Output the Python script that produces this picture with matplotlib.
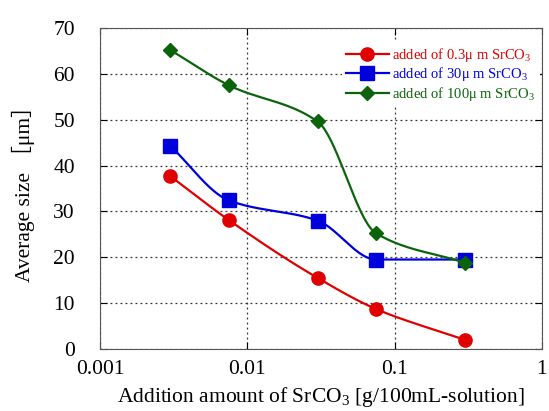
import matplotlib
matplotlib.use('Agg')
import matplotlib.pyplot as plt
import numpy as np

plt.rcParams['font.family'] = ['Liberation Serif', 'DejaVu Sans']
plt.rcParams['mathtext.fontset'] = 'custom'
plt.rcParams['mathtext.rm'] = 'Liberation Serif'

# addition amount of SrCO3 [g/100mL-solution]
amount = [0.003, 0.0075, 0.03, 0.075, 0.3]
size_03 = [37.7, 28.1, 15.5, 8.7, 2.0]
size_30 = [44.3, 32.4, 28.0, 19.5, 19.5]
size_100 = [65.2, 57.5, 49.6, 25.2, 18.8]

labels = ['added of 0.3\u03bc m SrCO$_3$',
          'added of 30\u03bc m SrCO$_3$',
          'added of 100\u03bc m SrCO$_3$']
colors = ['#e00000', '#0000dd', '#0b640b']
markers = ['o', 's', 'D']
msizes = [9.5, 10, 7]


def smooth(x, y, n=40):
    # monotone cubic (Fritsch-Carlson) through the points, in log-x space
    lx = np.log10(x)
    y = np.asarray(y, float)
    h = np.diff(lx)
    d = np.diff(y) / h
    m = np.zeros(len(y))
    m[0], m[-1] = d[0], d[-1]
    for i in range(1, len(y) - 1):
        if d[i - 1] * d[i] <= 0:
            m[i] = 0
        else:
            w1 = 2 * h[i] + h[i - 1]
            w2 = h[i] + 2 * h[i - 1]
            m[i] = (w1 + w2) / (w1 / d[i - 1] + w2 / d[i])
    xs, ys = [], []
    t = np.linspace(0, 1, n)
    for i in range(len(y) - 1):
        h00 = 2 * t**3 - 3 * t**2 + 1
        h10 = t**3 - 2 * t**2 + t
        h01 = -2 * t**3 + 3 * t**2
        h11 = t**3 - t**2
        xs.extend(lx[i] + t * h[i])
        ys.extend(h00 * y[i] + h10 * h[i] * m[i] + h01 * y[i + 1] + h11 * h[i] * m[i + 1])
    return 10 ** np.array(xs), np.array(ys)


fig = plt.figure(figsize=(5.49, 4.11), dpi=100)
ax = fig.add_axes([0.182, 0.151, 0.805, 0.781])

for ys, lab, c, m, ms in zip([size_03, size_30, size_100], labels, colors, markers, msizes):
    sx, sy = smooth(amount, ys)
    ax.plot(sx, sy, color=c, lw=1.6)
    ax.plot(amount, ys, ls='none', marker=m, ms=ms, color=c)
    ax.plot([], [], color=c, lw=1.6, marker=m, ms=ms, label=lab)

ax.set_xscale('log')
ax.set_xlim(0.001, 1)
ax.set_ylim(0, 70)
ax.set_xticks([0.001, 0.01, 0.1, 1])
ax.set_xticklabels(['0.001', '0.01', '0.1', '1'])
ax.minorticks_off()
ax.set_yticks(range(0, 71, 10))
ax.grid(True, ls=(0, (1.5, 2.5)), color='#333333', lw=0.9)
ax.tick_params(direction='in', top=True, right=True, labelsize=15.5, length=5)
ax.tick_params(axis='x', pad=8)
ax.tick_params(axis='y', pad=18)
for s in ax.spines.values():
    s.set_color('#555555')

ax.set_xlabel('Addition amount of SrCO$_3$ [g/100mL-solution]', fontsize=15.5, labelpad=4)
ax.set_ylabel('Average size \uff3b\u03bcm\uff3d', fontsize=15.5, labelpad=13,
              family=['Liberation Serif', 'Noto Sans CJK JP'])

leg = ax.legend(loc='upper right', frameon=True, fontsize=10.5, handlelength=2.9,
                handletextpad=0.25, labelspacing=0.08, borderaxespad=0.3,
                borderpad=0.3, bbox_to_anchor=(1.005, 0.97), fancybox=False)
leg.get_frame().set_edgecolor('none')
leg.get_frame().set_facecolor('white')
leg.get_frame().set_alpha(1)
for txt, c in zip(leg.get_texts(), colors):
    txt.set_color(c)

fig.savefig('out.png', dpi=100)
